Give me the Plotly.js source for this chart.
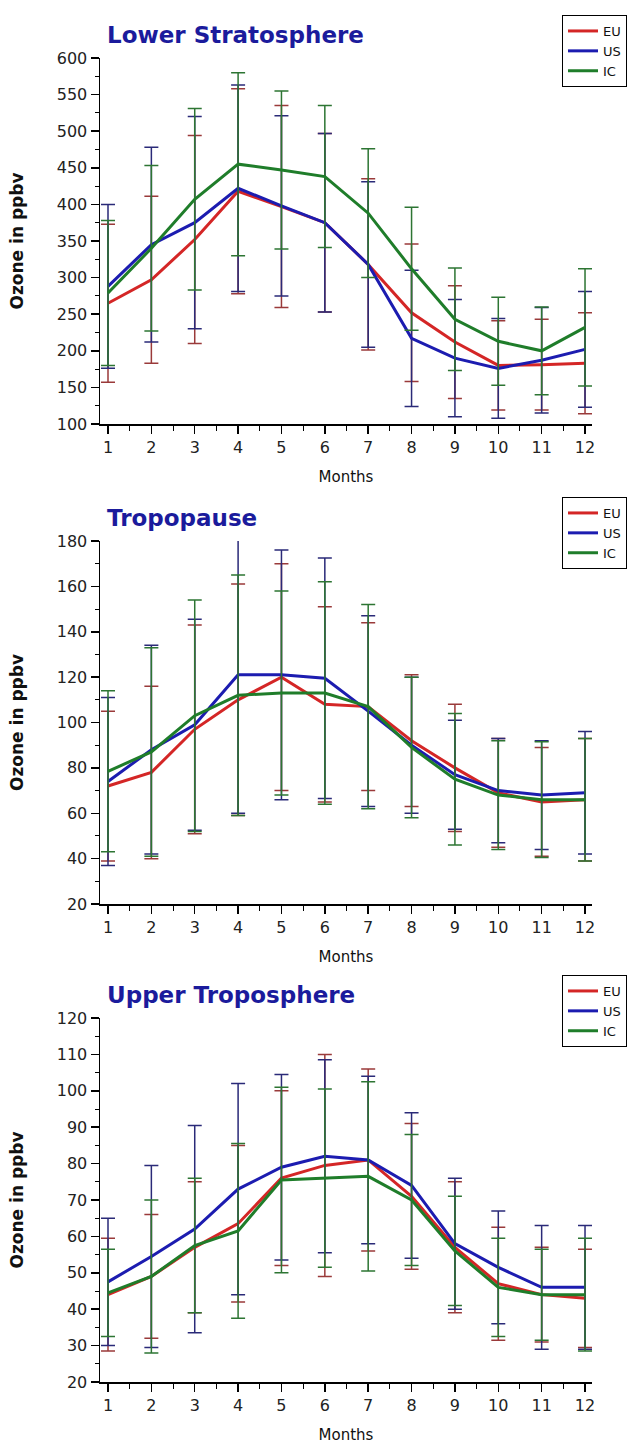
<!DOCTYPE html>
<html><head><meta charset="utf-8">
<script src="https://cdn.plot.ly/plotly-3.0.1.min.js"></script>
<style>html,body{margin:0;padding:0;background:#fff}</style>
</head><body>
<div id="chart" style="width:634px;height:1444px"></div>
<script>
// ---- data ----
const months = [1,2,3,4,5,6,7,8,9,10,11,12];
const seriesNames = ['EU','US','IC'];
const panelTitles = ['Lower Stratosphere','Tropopause','Upper Troposphere'];
const xTitle = 'Months';
const yTitle = 'Ozone in ppbv';

// Lower Stratosphere
const ls_eu = [265, 297, 352, 418, 397, 375, 318, 252, 212, 180, 181, 183];
const ls_us = [288, 345, 375, 422, 398, 375, 318, 217, 190, 176, 187, 202];
const ls_ic = [279, 340, 407, 455, 447, 438, 388, 312, 243, 213, 200, 232];
const ls_eu_err = [108, 114, 142, 140, 138, 122, 117, 94, 77, 61, 62, 69];
const ls_us_err = [112, 133, 145, 141, 123, 122, 113, 93, 80, 68, 72, 79];
const ls_ic_err = [99, 113, 124, 125, 108, 97, 88, 84, 70, 60, 60, 80];

// Tropopause
const tp_eu = [72, 78, 97, 110, 120, 108, 107, 92, 80, 69, 65, 66];
const tp_us = [74, 88, 99, 121, 121, 119.5, 105, 90, 77, 70, 68, 69];
const tp_ic = [78.5, 87, 103, 112, 113, 113, 107, 89, 75, 68, 66, 66];
const tp_eu_err = [33, 38, 46, 51, 50, 43, 37, 29, 28, 24, 24, 27];
const tp_us_err = [37, 46, 46.5, 61, 55, 53, 42, 30, 24, 23, 24, 27];
const tp_ic_err = [35.5, 46, 51, 53, 45, 49, 45, 31, 29, 24, 25.5, 27];

// Upper Troposphere
const ut_eu = [44, 49, 57, 63.5, 76, 79.5, 81, 71, 57, 47, 44, 43];
const ut_us = [47.5, 54.5, 62, 73, 79, 82, 81, 74, 58, 51.5, 46, 46];
const ut_ic = [44.5, 49, 57.5, 61.5, 75.5, 76, 76.5, 70, 56, 46, 44, 44];
const ut_eu_err = [15.5, 17, 18, 21.5, 24, 30.5, 25, 20, 18, 15.5, 13, 13.5];
const ut_us_err = [17.5, 25, 28.5, 29, 25.5, 26.5, 23, 20, 18, 15.5, 17, 17];
const ut_ic_err = [12, 21, 18.5, 24, 25.5, 24.5, 26, 18, 15, 13.5, 12.5, 15.5];

// y axis ranges / ticks per panel
const yRanges = [[100, 600], [20, 180], [20, 120]];
const yDticks = [50, 20, 10];

// ---- build ----
const panels = [
  {vals: [ls_eu, ls_us, ls_ic], errs: [ls_eu_err, ls_us_err, ls_ic_err]},
  {vals: [tp_eu, tp_us, tp_ic], errs: [tp_eu_err, tp_us_err, tp_ic_err]},
  {vals: [ut_eu, ut_us, ut_ic], errs: [ut_eu_err, ut_us_err, ut_ic_err]}
];
const lineColors = ['#d42626', '#1c1cb0', '#1f7d2a'];
const errColors = ['#9a3a3a', '#2a2a78', '#2d7533'];

const W = 634, H = 1444;
const px = v => v / W;
const py = v => 1 - v / H;
// panel pixel geometry (top of y-range, bottom of y-range)
const panelPix = [[58, 424], [541, 904], [1018, 1382]];
const legendTops = [15, 497, 975];

const traces = [];
panels.forEach((p, i) => {
  const sfx = i === 0 ? '' : String(i + 1);
  p.vals.forEach((v, s) => {
    traces.push({
      type: 'scatter', mode: 'lines', x: months, y: v, name: seriesNames[s],
      xaxis: 'x' + sfx, yaxis: 'y' + sfx, legend: 'legend' + sfx,
      line: {color: lineColors[s], width: 3},
      error_y: {type: 'data', array: p.errs[s], visible: true, color: errColors[s], thickness: 1.5, width: 7}
    });
  });
});

const tickFont = {family: 'DejaVu Sans', size: 16, color: '#222'};
const layout = {
  width: W, height: H,
  margin: {l: 0, r: 0, t: 0, b: 0, autoexpand: false},
  paper_bgcolor: '#fff', plot_bgcolor: '#fff',
  showlegend: true,
  annotations: []
};
panelPix.forEach((pp, i) => {
  const sfx = i === 0 ? '' : String(i + 1);
  layout['xaxis' + sfx] = {
    domain: [px(100), px(592)], range: [0.8155, 12.161], anchor: 'y' + sfx,
    tickmode: 'linear', tick0: 1, dtick: 1, ticks: 'outside', ticklen: 8, tickwidth: 1.5, tickcolor: '#000',
    minor: {ticks: 'outside', ticklen: 5, tickwidth: 1, tickcolor: '#000', dtick: 0.5, tick0: 0.5},
    showline: true, linecolor: '#000', linewidth: 1.5, showgrid: false, zeroline: false,
    tickfont: tickFont,
    title: {text: xTitle, font: {family: 'DejaVu Sans', size: 15, color: '#111'}, standoff: 16}
  };
  layout['yaxis' + sfx] = {
    domain: [py(pp[1]), py(pp[0])], range: yRanges[i], anchor: 'x' + sfx,
    tickmode: 'linear', tick0: yRanges[i][0], dtick: yDticks[i], ticks: 'outside', ticklen: 8, tickwidth: 1.5, tickcolor: '#000',
    minor: {ticks: 'outside', ticklen: 4, tickwidth: 1, tickcolor: '#000', dtick: yDticks[i] / 2},
    showline: true, linecolor: '#000', linewidth: 1.5, showgrid: false, zeroline: false,
    tickfont: tickFont,
    title: {text: yTitle, font: {family: 'DejaVu Sans', size: 17, color: '#111', weight: 'bold'}, standoff: 29}
  };
  layout['legend' + sfx] = {
    x: px(562), xanchor: 'left', y: py(legendTops[i]), yanchor: 'top',
    bgcolor: '#fff', bordercolor: '#000', borderwidth: 1,
    font: {family: 'DejaVu Sans', size: 13, color: '#111'}, tracegroupgap: 0
  };
  layout.annotations.push({
    xref: 'paper', yref: 'paper', x: px(105), y: py(pp[0] - 23), xanchor: 'left', yanchor: 'middle',
    text: panelTitles[i], showarrow: false,
    font: {family: 'DejaVu Sans', size: 23, color: '#1b1b9c', weight: 'bold'}
  });
});

Plotly.newPlot('chart', traces, layout, {displayModeBar: false, staticPlot: true});
</script>
</body></html>
